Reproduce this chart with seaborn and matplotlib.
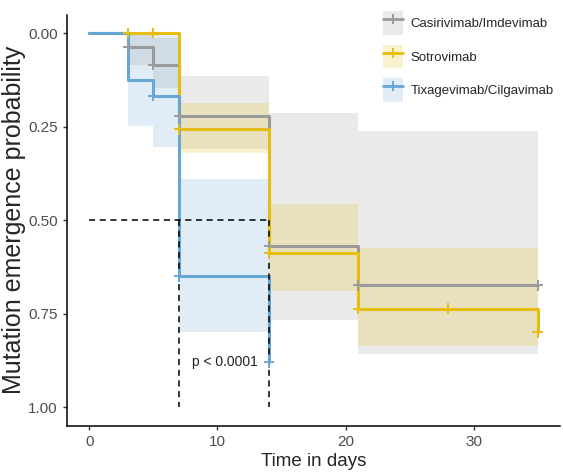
import numpy as np
import pandas as pd
import matplotlib
matplotlib.use("Agg")
import matplotlib.pyplot as plt
from matplotlib.patches import Patch
from matplotlib.lines import Line2D
import seaborn as sns

sns.set_theme(style="ticks")
plt.rcParams['font.family'] = ['Liberation Sans', 'DejaVu Sans']

groups = ["Casirivimab/Imdevimab", "Sotrovimab", "Tixagevimab/Cilgavimab"]
colors = ["#9A9A9A", "#E6BD10", "#67A7D3"]

# step curves: time in days, cumulative probability of mutation emergence
casi_t = [0, 3, 5, 7, 14, 21, 35]
casi_p = [0, 0.037, 0.084, 0.222, 0.569, 0.674, 0.674]
sotro_t = [0, 3, 5, 7, 14, 21, 28, 35]
sotro_p = [0, 0, 0, 0.257, 0.588, 0.736, 0.736, 0.80]
tixa_t = [0, 3, 5, 7, 14]
tixa_p = [0, 0.126, 0.168, 0.65, 0.88]

# confidence bands (step-post)
casi_ci_t = [3, 5, 7, 14, 21, 35]
casi_lo = [0, 0.013, 0.115, 0.214, 0.26, 0.26]
casi_hi = [0.086, 0.147, 0.31, 0.767, 0.858, 0.858]
sotro_ci_t = [7, 14, 21, 35]
sotro_lo = [0.187, 0.457, 0.574, 0.574]
sotro_hi = [0.32, 0.689, 0.836, 0.836]
tixa_ci_t = [3, 5, 7, 14]
tixa_lo = [0, 0, 0.39, 0.39]
tixa_hi = [0.248, 0.305, 0.80, 0.80]

# censoring times
casi_cens = [3, 5, 7, 14, 21, 35]
sotro_cens = [3, 5, 7, 14, 21, 28, 35]
tixa_cens = [5, 7, 14]

medians = [14, 14, 7]
pval_text = "p < 0.0001"

curves = [(casi_t, casi_p), (sotro_t, sotro_p), (tixa_t, tixa_p)]
bands = [(casi_ci_t, casi_lo, casi_hi), (sotro_ci_t, sotro_lo, sotro_hi),
         (tixa_ci_t, tixa_lo, tixa_hi)]
cens = [casi_cens, sotro_cens, tixa_cens]

lines_df = pd.concat([pd.DataFrame({'time': t, 'prob': p, 'group': g})
                      for g, (t, p) in zip(groups, curves)], ignore_index=True)


def step_value(t, p, x):
    idx = np.searchsorted(t, x, side='right') - 1
    return np.asarray(p)[idx]


cens_df = pd.concat([pd.DataFrame({'time': c, 'prob': step_value(t, p, c), 'group': g})
                     for g, (t, p), c in zip(groups, curves, cens)], ignore_index=True)

fig = plt.figure(figsize=(5.63, 4.73), dpi=100)
ax = fig.add_axes([0.119, 0.0994, 0.8757, 0.8698])

for (t, lo, hi), col in zip(bands, colors):
    ax.fill_between(t, lo, hi, step='post', color=col, alpha=0.2, linewidth=0)

sns.lineplot(data=lines_df, x='time', y='prob', hue='group', hue_order=groups,
             palette=colors, drawstyle='steps-post', estimator=None, sort=False,
             linewidth=2.2, legend=False, ax=ax)
sns.scatterplot(data=cens_df, x='time', y='prob', hue='group', hue_order=groups,
                palette=colors, marker='+', s=55, linewidth=1.4, legend=False,
                ax=ax, zorder=4)

# median lines
ax.plot([0, max(medians)], [0.5, 0.5], color='black', ls=(0, (4, 3)), lw=1.1)
for m in sorted(set(medians)):
    ax.plot([m, m], [0.5, 1.0], color='black', ls=(0, (4, 3)), lw=1.1)

ax.text(10.55, 0.88, pval_text, ha='center', va='center', fontsize=10, color='#222222')

ax.set_xlim(-1.75, 36.75)
ax.set_ylim(1.05, -0.05)
ax.set_xticks([0, 10, 20, 30])
ax.set_yticks([0, 0.25, 0.5, 0.75, 1.0])
ax.set_yticklabels(['0.00', '0.25', '0.50', '0.75', '1.00'])
ax.set_xlabel('Time in days', fontsize=13.5, labelpad=3)
ax.set_ylabel('Mutation emergence probability', fontsize=18, labelpad=2)
ax.tick_params(labelsize=11, labelcolor='#4D4D4D', color='#333333', length=3, width=1)
sns.despine(ax=ax)
for s in ['left', 'bottom']:
    ax.spines[s].set_color('black')
    ax.spines[s].set_linewidth(1.1)

handles = [(Patch(facecolor=c, alpha=0.2, edgecolor='none'),
            Line2D([], [], color=c, lw=2, marker='+', markersize=7, markeredgewidth=1.4))
           for c in colors]
fig.legend(handles, groups, loc='upper left', bbox_to_anchor=(0.68, 0.976),
           frameon=False, fontsize=9.5, handlelength=1.5, handleheight=2.4,
           handletextpad=0.6, labelspacing=0.72, borderpad=0, borderaxespad=0)

fig.savefig('out.png', dpi=100)
